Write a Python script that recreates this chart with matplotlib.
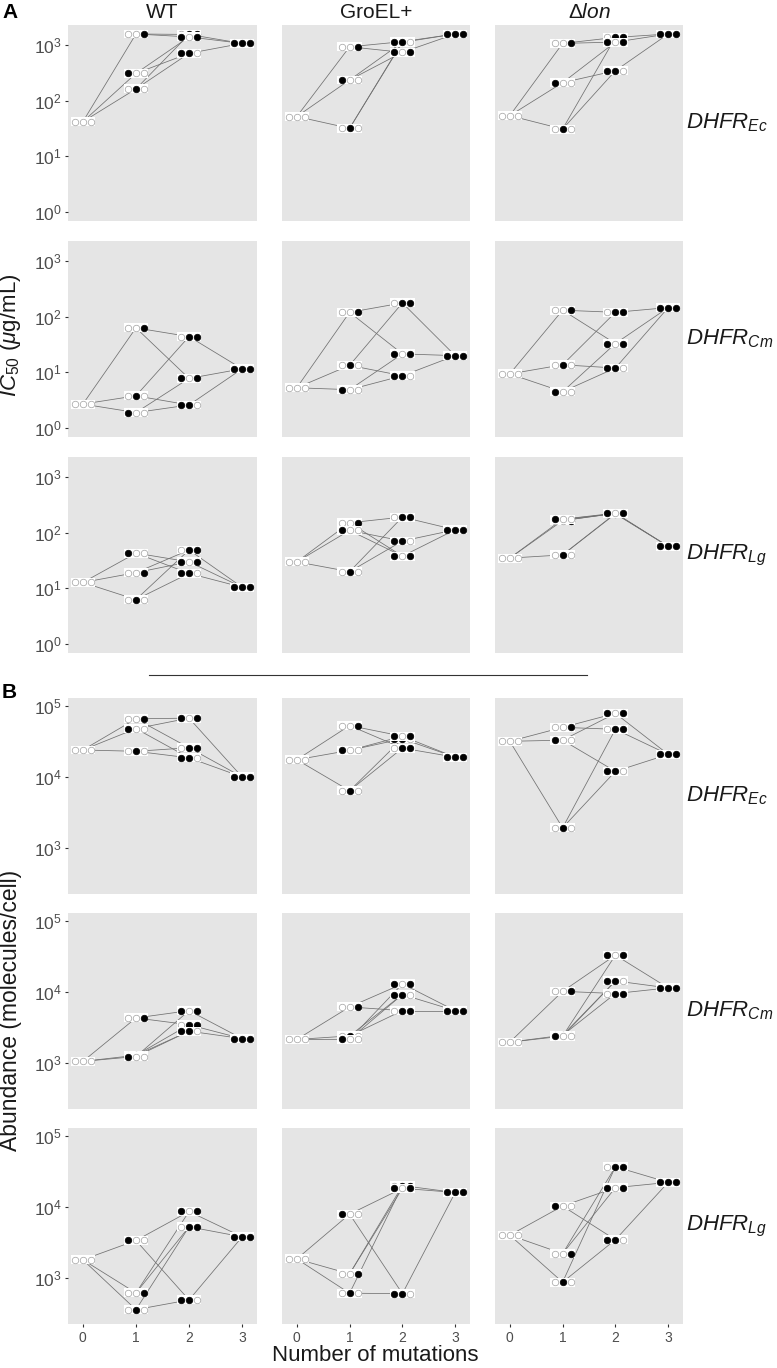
import numpy as np
import matplotlib
matplotlib.use("Agg")
import matplotlib.pyplot as plt
from matplotlib import transforms
from matplotlib.path import Path
from matplotlib.ticker import LogLocator, NullLocator, FixedLocator

plt.rcParams['font.family'] = ['Liberation Sans', 'DejaVu Sans']
plt.rcParams['mathtext.fontset'] = 'custom'
plt.rcParams['mathtext.rm'] = 'Liberation Sans'
plt.rcParams['mathtext.it'] = 'Liberation Sans:italic'
plt.rcParams['mathtext.bf'] = 'Liberation Sans:bold'

backgrounds = ['WT', 'GroEL+', 'Δ$\\mathit{lon}$']
enzymes = ['Ec', 'Cm', 'Lg']
genotypes = ['000', '100', '010', '001', '110', '101', '011', '111']
draw_order = ['000', '001', '010', '100', '011', '110', '101', '111']

# IC50 (ug/mL), one value per genotype in the order above
ic50_wt_ec = [42, 310, 163, 1580, 710, 1400, 1550, 1070]
ic50_groel_ec = [52, 236, 32, 930, 1120, 740, 1150, 1580]
ic50_lon_ec = [54, 211, 31, 1070, 346, 1130, 1370, 1580]
ic50_wt_cm = [2.7, 1.9, 3.8, 63, 2.6, 7.8, 44, 11.6]
ic50_groel_cm = [5.3, 4.9, 13.4, 120, 8.7, 21.5, 177, 20]
ic50_lon_cm = [9.4, 4.5, 13.7, 131, 12, 33, 120, 146]
ic50_wt_lg = [12.8, 43, 6.3, 19.2, 18.6, 30, 49, 10.5]
ic50_groel_lg = [30, 110, 20, 151, 71, 38, 191, 113]
ic50_lon_lg = [35, 175, 40, 165, 218, 225, 222, 57]

# abundance (molecules/cell)
abund_wt_ec = [24000, 48000, 23000, 66000, 18600, 67500, 25800, 10000]
abund_groel_ec = [17500, 23700, 6400, 53000, 34500, 37500, 25500, 19000]
abund_lon_ec = [31800, 33000, 1920, 50000, 12000, 78700, 47000, 20800]
abund_wt_cm = [1050, 1230, 1280, 4300, 2800, 5450, 3450, 2200]
abund_groel_cm = [2140, 2150, 2400, 6150, 9200, 13000, 5450, 5450]
abund_lon_cm = [1960, 2380, 2450, 10200, 14300, 33000, 9500, 11400]
abund_wt_lg = [1800, 3370, 357, 614, 489, 8630, 5250, 3790]
abund_groel_lg = [1850, 7920, 608, 1140, 600, 18300, 20000, 16000]
abund_lon_lg = [4000, 10300, 870, 2200, 3450, 18700, 36900, 22200]

ic50 = [[ic50_wt_ec, ic50_groel_ec, ic50_lon_ec],
        [ic50_wt_cm, ic50_groel_cm, ic50_lon_cm],
        [ic50_wt_lg, ic50_groel_lg, ic50_lon_lg]]
abund = [[abund_wt_ec, abund_groel_ec, abund_lon_ec],
         [abund_wt_cm, abund_groel_cm, abund_lon_cm],
         [abund_wt_lg, abund_groel_lg, abund_lon_lg]]

# genotypes one mutation apart are joined
edges = [(a, b) for a in genotypes for b in genotypes
         if a < b and sum(p != q for p, q in zip(a, b)) == 1]

W, H = 777, 1368
fig = plt.figure(figsize=(W / 100, H / 100), dpi=100)

cols_px = [(68, 257), (282, 470), (495, 683)]
rows_a = [25, 241, 457]
rows_b = [698, 913, 1128]
panel_h = 196

box = Path([(-1.5, -0.55), (1.5, -0.55), (1.5, 0.55), (-1.5, 0.55), (-1.5, -0.55)],
           [Path.MOVETO, Path.LINETO, Path.LINETO, Path.LINETO, Path.CLOSEPOLY])
bg = '#E5E5E5'


def add_panel(top, col):
    x0, x1 = cols_px[col]
    ax = fig.add_axes([x0 / W, 1 - (top + panel_h) / H, (x1 - x0) / W, panel_h / H])
    ax.set_facecolor(bg)
    for s in ax.spines.values():
        s.set_visible(False)
    return ax


def draw_landscape(ax, vals):
    pos = {g: (g.count('1'), v) for g, v in zip(genotypes, vals)}
    for a, b in edges:
        ax.plot([pos[a][0], pos[b][0]], [pos[a][1], pos[b][1]],
                color='#707070', lw=0.55, zorder=1)
    offs = [transforms.offset_copy(ax.transData, fig=fig, x=dx, y=0, units='points')
            for dx in (-5.8, 0, 5.8)]
    for k, g in enumerate(draw_order):
        x, y = pos[g]
        z = 2 + k * 0.1
        ax.scatter([x], [y], marker=box, s=17.5 ** 2, c='white',
                   edgecolors='none', zorder=z)
        for i, bit in enumerate(g):
            ax.scatter([x], [y], s=4.7 ** 2, transform=offs[i],
                       c='black' if bit == '1' else 'white',
                       edgecolors='black' if bit == '1' else '#a0a0a0',
                       linewidths=0.5, zorder=z + 0.05)


def style(ax, ylim, col, bottom_row):
    ax.set_xlim(-0.28, 3.28)
    ax.set_ylim(*ylim)
    ax.yaxis.set_minor_locator(NullLocator())
    if col == 0:
        ax.tick_params(axis='y', length=2.5, width=0.8, color='#333333',
                       labelsize=12.5, labelcolor='#4D4D4D', pad=2)
    else:
        ax.tick_params(axis='y', length=0, labelleft=False)
    if bottom_row:
        ax.xaxis.set_major_locator(FixedLocator([0, 1, 2, 3]))
        ax.tick_params(axis='x', length=2.5, width=0.8, color='#333333',
                       labelsize=10, labelcolor='#4D4D4D', pad=2.5)
    else:
        ax.set_xticks([])


for r in range(3):
    for c in range(3):
        ax = add_panel(rows_a[r], c)
        ax.set_yscale('log')
        ax.yaxis.set_major_locator(LogLocator(base=10, numticks=10))
        draw_landscape(ax, ic50[r][c])
        style(ax, (10 ** -0.16, 10 ** 3.36), c, False)

        ax = add_panel(rows_b[r], c)
        ax.set_yscale('log')
        ax.yaxis.set_major_locator(LogLocator(base=10, numticks=10))
        draw_landscape(ax, abund[r][c])
        style(ax, (10 ** 2.35, 10 ** 5.113), c, r == 2)

# strip texts and labels
for c, name in enumerate(backgrounds):
    xc = (cols_px[c][0] + cols_px[c][1]) / 2
    fig.text(xc / W, 1 - 13 / H, name, ha='center', va='center',
             fontsize=15, color='#1A1A1A')

for tops in (rows_a, rows_b):
    for r, e in enumerate(enzymes):
        yc = tops[r] + panel_h / 2
        fig.text(686 / W, 1 - yc / H, '$\\mathit{DHFR}_{\\mathit{' + e + '}}$',
                 ha='left', va='center', fontsize=16, color='#1A1A1A')

fig.text(2 / W, 1 - 12 / H, 'A', fontsize=15, fontweight='bold', ha='left', va='center')
fig.text(2 / W, 1 - 692 / H, 'B', fontsize=15, fontweight='bold', ha='left', va='center')

fig.text(11 / W, 1 - 335 / H, '$\\mathit{IC}_{50}$ ($\\mathit{\\mu}$g/mL)',
         rotation=90, ha='center', va='center', fontsize=16, color='#1A1A1A')
fig.text(11 / W, 1 - 1010 / H, 'Abundance (molecules/cell)',
         rotation=90, ha='center', va='center', fontsize=16.5, color='#1A1A1A')
fig.text(375 / W, 1 - 1366 / H, 'Number of mutations',
         ha='center', va='bottom', fontsize=16, color='#1A1A1A')

fig.add_artist(plt.Line2D([149 / W, 587 / W], [1 - 675 / H, 1 - 675 / H],
                          color='#333333', lw=0.8))

fig.savefig('out.png', dpi=100)
